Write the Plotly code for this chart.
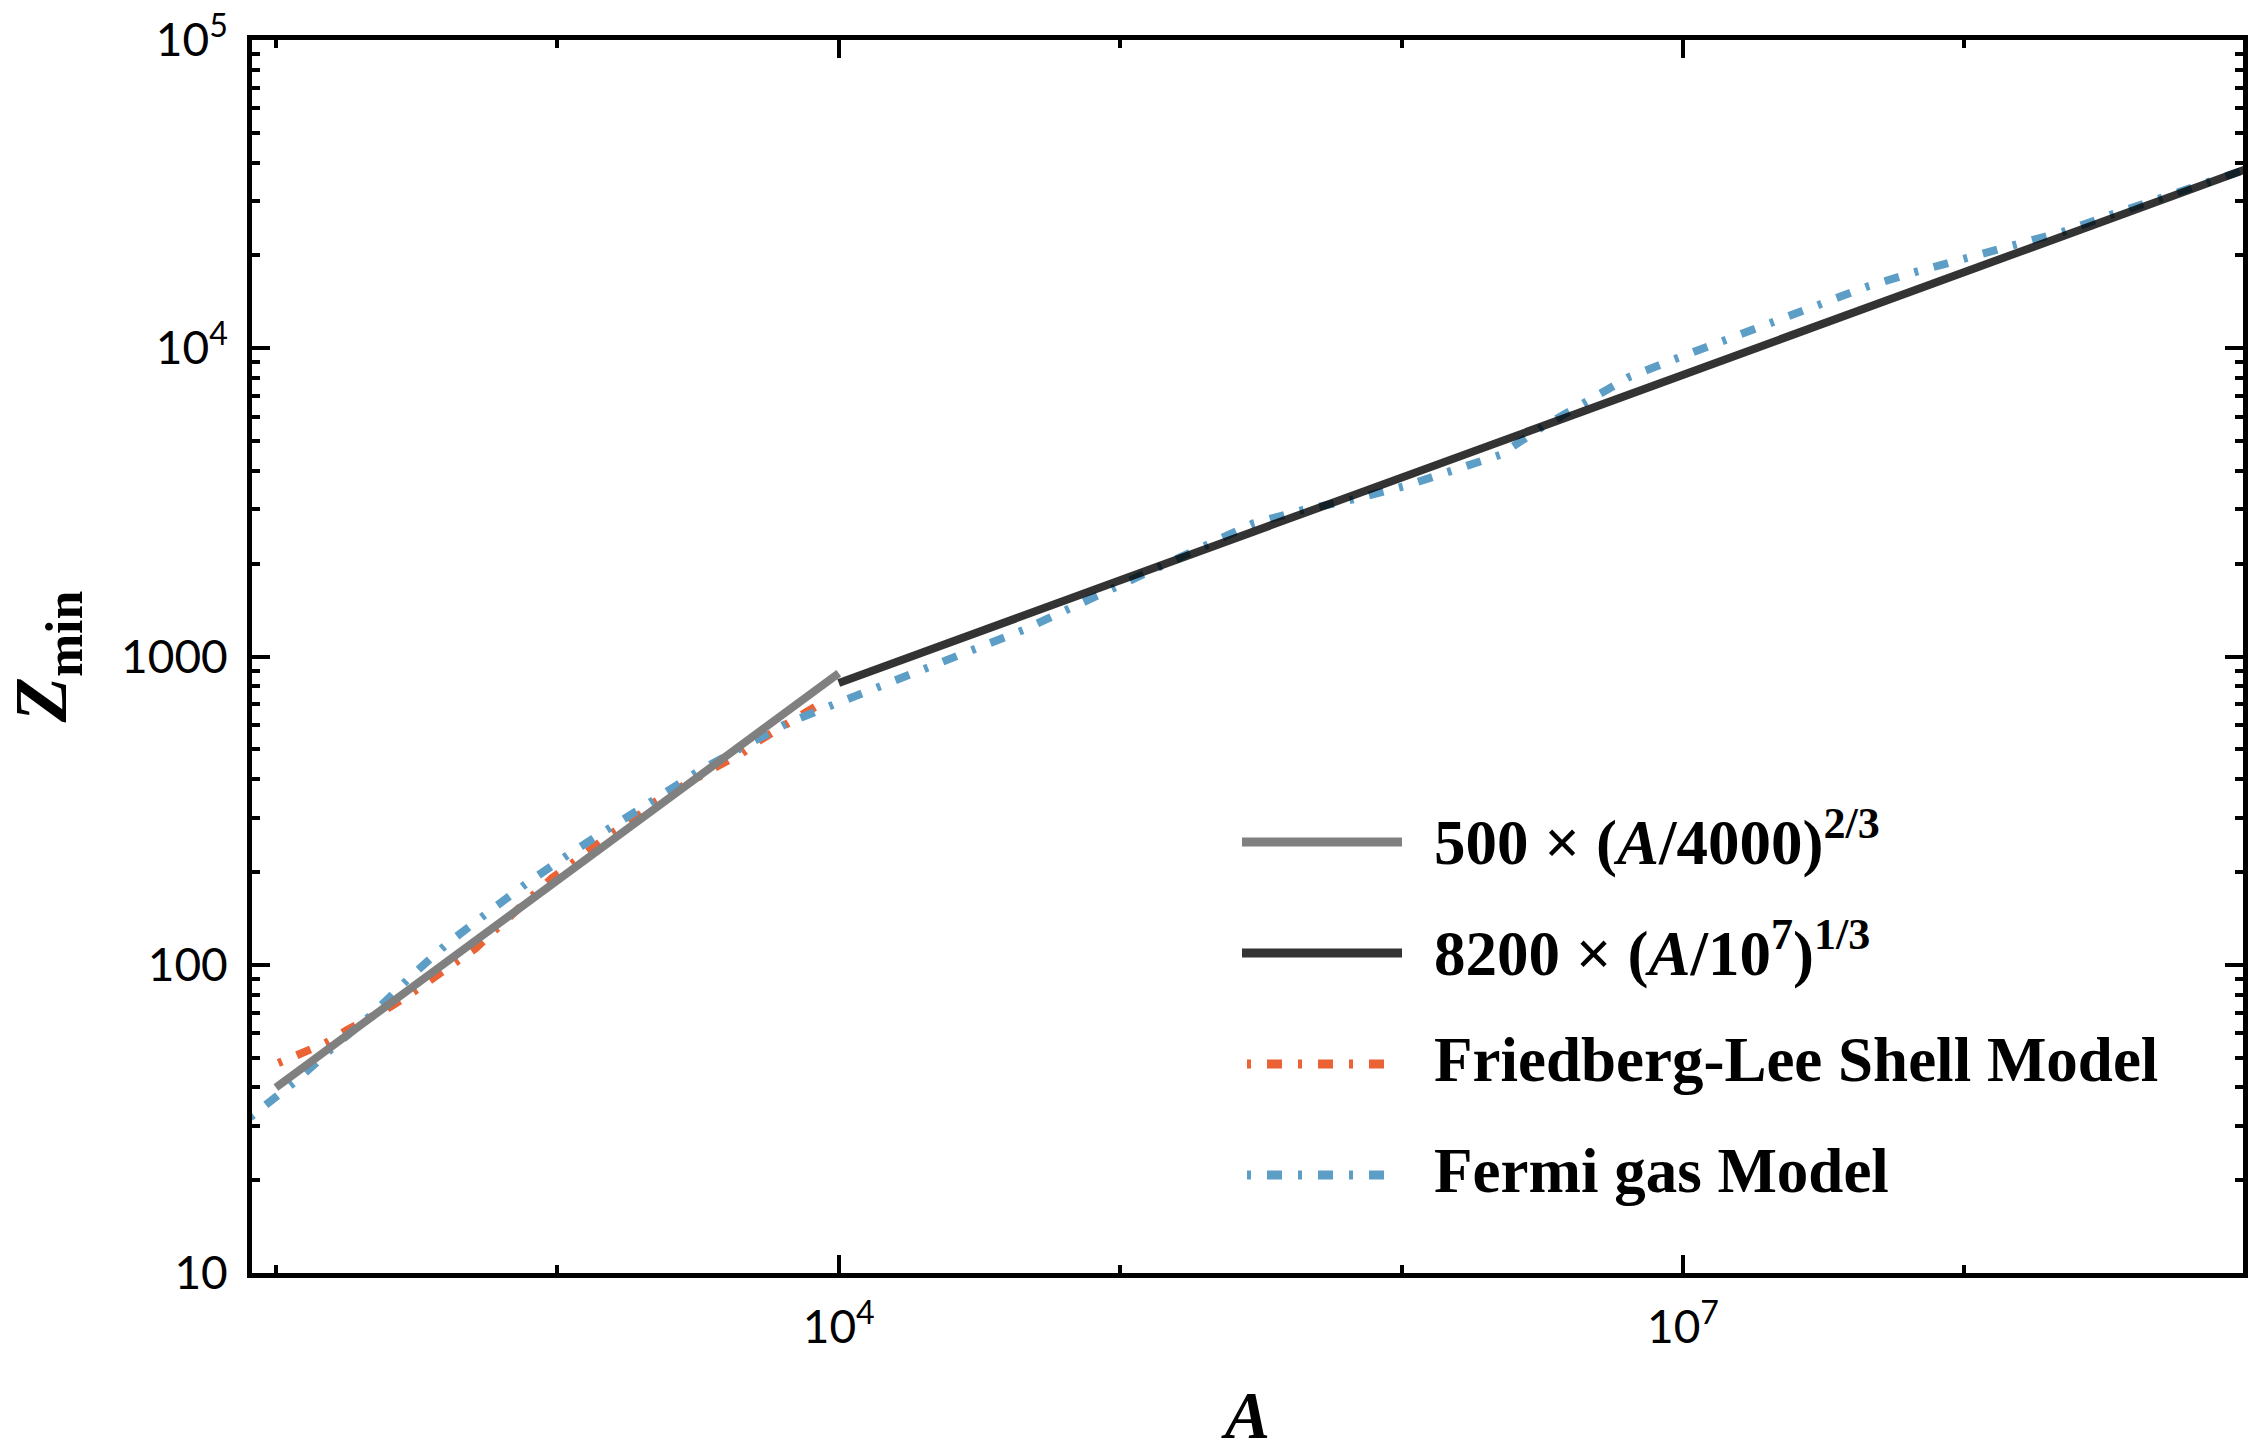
import plotly.graph_objects as go

# ---- data ----
fit_low_A = [100, 1e4]                 # 500 (A/4000)^(2/3) as drawn
fit_low_Z = [40, 882]
fit_high_A = [1e4, 1e9]                # 8200 (A/1e7)^(1/3)
fit_high_Z = [820, 38060]

fl_A = [102, 124, 150, 179, 255, 309, 364, 435, 512, 603, 719, 804, 957, 1127,
        1327, 1563, 1919, 2198, 3690, 4529, 5260, 6368, 7709, 9078]
fl_Z = [48, 51.7, 55.7, 61.4, 73.1, 81.8, 90.4, 101, 113, 130, 151, 168, 191, 213,
        239, 267, 302, 335, 440, 485, 536, 600, 662, 723]

fg_A = [81, 101, 119, 160, 222, 301, 406, 562, 780, 1112, 1581, 2198, 3221, 4581,
        6546, 9550, 14030, 21130, 30970, 45290, 66370, 97270, 1.422e5, 2.03e5,
        2.972e5, 4.467e5, 6.73e5, 1.012e6, 1.486e6, 2.239e6, 3.177e6, 4.416e6,
        6.471e6, 9.506e6, 1.352e7, 2.037e7, 3.069e7, 4.498e7, 6.761e7, 1.019e8,
        1.493e8, 2.249e8, 3.296e8, 4.955e8, 7.261e8, 1.0e9]
fg_Z = [32, 37.8, 42.3, 54, 69.7, 91.5, 117, 147, 184, 230, 280, 342, 428, 509,
        607, 697, 798, 916, 1064, 1219, 1433, 1684, 1982, 2300,
        2704, 2987, 3234, 3556, 3978, 4508, 5565, 6627,
        8087, 9274, 10500, 12050, 13800, 15840, 17720, 19580,
        21350, 23900, 27040, 30620, 34670, 38000]

x_major = [1e4, 1e7]
x_major_text = ["10<sup>4</sup>", "10<sup>7</sup>"]
x_minor = [1e2, 1e3, 1e5, 1e6, 1e8, 1e9]
y_major = [10, 100, 1000, 1e4, 1e5]
y_major_text = ["10", "100", "1000", "10<sup>4</sup>", "10<sup>5</sup>"]
y_minor = [m * 10 ** k for k in range(1, 5) for m in range(2, 10)]

legend_labels = [
    "<b>500 × (<i>A</i>/4000)<sup>2/3</sup></b>",
    "<b>8200 × (<i>A</i>/10<sup>7</sup>)<sup>1/3</sup></b>",
    "<b>Friedberg-Lee Shell Model</b>",
    "<b>Fermi gas Model</b>",
]

GRAY = "#808080"
BLACK = "rgba(0,0,0,0.8)"
ORANGE = "#EB6235"
BLUE = "#5D9EC7"
DASH = "4px,16px,15px,16px"

fig = go.Figure()
fig.add_trace(go.Scatter(x=fl_A, y=fl_Z, mode="lines",
                         line=dict(color=ORANGE, width=8, dash=DASH)))
fig.add_trace(go.Scatter(x=fg_A, y=fg_Z, mode="lines",
                         line=dict(color=BLUE, width=8, dash=DASH)))
fig.add_trace(go.Scatter(x=fit_low_A, y=fit_low_Z, mode="lines",
                         line=dict(color=GRAY, width=8)))
fig.add_trace(go.Scatter(x=fit_high_A, y=fit_high_Z, mode="lines",
                         line=dict(color=BLACK, width=8)))

# ---- custom legend (paper coordinates) ----
L, R, T, B = 252, 2243, 40, 1273
def px(x):
    return (x - L) / (R - L)
def py(y):
    return (B - y) / (B - T)

leg_y = [842, 953, 1064, 1175]
leg_styles = [(GRAY, None, 1242, 1402), ("#333333", None, 1242, 1402),
              (ORANGE, DASH, 1247, 1384), (BLUE, DASH, 1247, 1384)]
for yy, (col, dash, x0, x1), lab in zip(leg_y, leg_styles, legend_labels):
    ln = dict(color=col, width=9)
    if dash:
        ln["dash"] = dash
    fig.add_shape(type="line", xref="paper", yref="paper",
                  x0=px(x0), x1=px(x1), y0=py(yy), y1=py(yy), line=ln)
    fig.add_annotation(xref="paper", yref="paper", x=px(1432), y=py(yy - 4),
                       xanchor="left", yanchor="middle", showarrow=False,
                       text=lab, font=dict(family="Liberation Serif", size=63, color="black"))

tickfont = dict(family="Lato", size=46, color="black")
axis_common = dict(type="log", showline=True, linewidth=5, linecolor="black",
                   mirror="allticks", ticks="inside", ticklen=18, tickwidth=4,
                   tickcolor="black", showgrid=False, zeroline=False,
                   tickfont=tickfont, automargin=False)

fig.update_xaxes(**axis_common, range=[1.915, 8.99],
                 tickmode="array", tickvals=x_major, ticktext=x_major_text,
                 ticklabelstandoff=10,
                 minor=dict(tickmode="array", tickvals=x_minor, ticks="inside",
                            ticklen=8, tickwidth=4, tickcolor="black", showgrid=False),
                 title=dict(text="<b><i>A</i></b>", standoff=44,
                            font=dict(family="Liberation Serif", size=68, color="black")))
fig.update_yaxes(**axis_common, range=[1, 5],
                 tickmode="array", tickvals=y_major, ticktext=y_major_text,
                 ticklabelstandoff=10,
                 minor=dict(tickmode="array", tickvals=y_minor, ticks="inside",
                            ticklen=8, tickwidth=4, tickcolor="black", showgrid=False),
                 title=dict(text="<b><i>Z</i><sub>min</sub></b>", standoff=36,
                            font=dict(family="Liberation Serif", size=74, color="black")))

fig.update_layout(width=2255, height=1453, showlegend=False,
                  margin=dict(l=L, r=2255 - R, t=T, b=1453 - B),
                  plot_bgcolor="white", paper_bgcolor="white")

fig.write_html("out.html")
